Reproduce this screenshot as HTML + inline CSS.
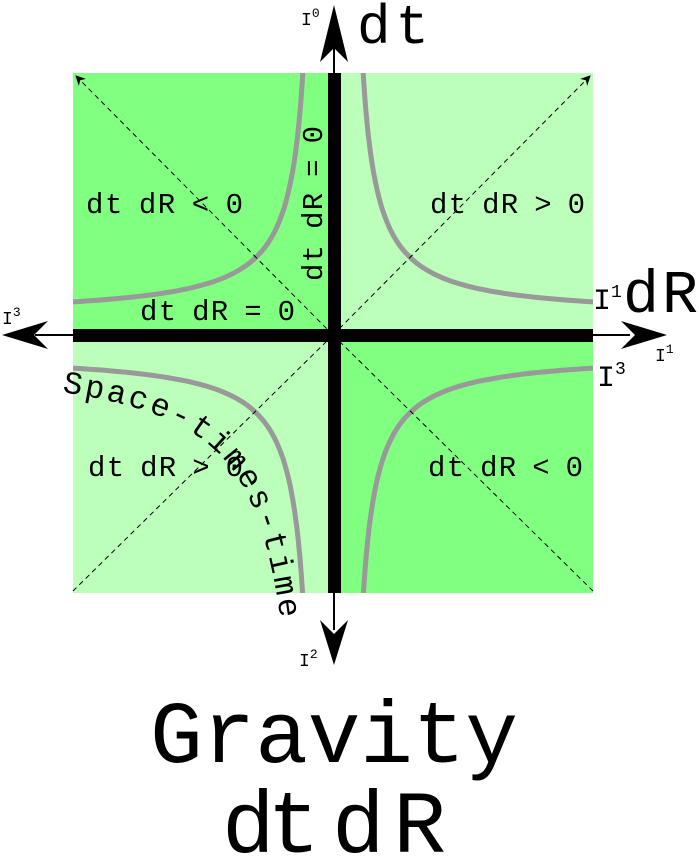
<!DOCTYPE html>
<html><head><meta charset="utf-8"><style>
html,body{margin:0;padding:0;background:#fff;}
svg{display:block;}
text{font-family:"Liberation Mono","DejaVu Sans Mono",monospace;fill:#000;}
</style></head><body>
<svg id="chart" width="699" height="859" viewBox="0 0 699 859" xmlns="http://www.w3.org/2000/svg">
<defs>
<marker id="sm" markerWidth="10" markerHeight="10" refX="9" refY="5" orient="auto" markerUnits="userSpaceOnUse"><path d="M0,0 L10,5 L0,10 L3,5 Z" fill="#000"/></marker>
</defs>
<rect x="73" y="73" width="260" height="262" fill="#80ff80"/>
<rect x="333" y="73" width="260" height="262" fill="#bbffbb"/>
<rect x="73" y="335" width="260" height="258" fill="#bbffbb"/>
<rect x="333" y="335" width="260" height="258" fill="#80ff80"/>
<g id="curves"></g>
<line x1="333" y1="335" x2="76" y2="76" stroke="#000" stroke-width="1" stroke-dasharray="5,4" marker-end="url(#sm)"/>
<line x1="333" y1="335" x2="590" y2="76" stroke="#000" stroke-width="1" stroke-dasharray="5,4" marker-end="url(#sm)"/>
<line x1="333" y1="335" x2="73" y2="591" stroke="#000" stroke-width="1" stroke-dasharray="5,4"/>
<line x1="333" y1="335" x2="593" y2="591" stroke="#000" stroke-width="1" stroke-dasharray="5,4"/>
<line x1="334" y1="40" x2="334" y2="630" stroke="#000" stroke-width="2"/>
<line x1="35" y1="335" x2="630" y2="335" stroke="#000" stroke-width="2"/>
<path d="M334,5 L348,62 L334,48 L320,62 Z" fill="#000"/>
<path d="M334,665 L348,620 L334,634 L320,620 Z" fill="#000"/>
<path d="M2,335 L48,321 L34,335 L48,349 Z" fill="#000"/>
<path d="M667,335 L621,321 L635,335 L621,349 Z" fill="#000"/>
<rect x="328" y="73" width="13" height="520" fill="#000"/>
<rect x="73" y="329" width="520" height="13" fill="#000"/>
<path id="textcurve" fill="none" stroke="none"/>
<text font-size="32"><textPath href="#textcurve" textLength="350" lengthAdjust="spacing">Space-times-time</textPath></text>
<text x="86" y="213" font-size="29" word-spacing="-4" textLength="157">dt dR &lt; 0</text>
<text x="430" y="213" font-size="29" word-spacing="-4" textLength="155">dt dR &gt; 0</text>
<text x="140" y="320" font-size="29" word-spacing="-4" textLength="155">dt dR = 0</text>
<text transform="translate(322,281) rotate(-90)" font-size="29" word-spacing="-4" textLength="155">dt dR = 0</text>
<text x="88" y="476" font-size="29" word-spacing="-4" textLength="155">dt dR &gt; 0</text>
<text x="428" y="476" font-size="29" word-spacing="-4" textLength="155">dt dR &lt; 0</text>
<text x="357" y="43" font-size="56" textLength="72">dt</text>
<text x="623" y="312" font-size="60" textLength="75">dR</text>
<text x="593" y="309" font-size="30">I<tspan font-size="18" dy="-12">1</tspan></text>
<text x="597" y="386" font-size="30">I<tspan font-size="18" dy="-12">3</tspan></text>
<text x="301" y="25" font-size="18">I<tspan font-size="13" dy="-8">0</tspan></text>
<text x="2" y="324" font-size="18">I<tspan font-size="13" dy="-8">3</tspan></text>
<text x="655" y="361" font-size="18">I<tspan font-size="13" dy="-8">1</tspan></text>
<text x="299" y="666" font-size="18">I<tspan font-size="13" dy="-8">2</tspan></text>
<text x="150" y="762" font-size="88" textLength="368">Gravity</text>
<text x="222" y="852" font-size="88" textLength="98">dt</text>
<text x="332" y="852" font-size="88" textLength="114">dR</text>
</svg>
<script>
// hyperbola data: quadrant sign pairs and constant k for (x-a)(b-y)=k in diagram units
const quadrants = ["top-right","top-left","bottom-left","bottom-right"];
const signX = [1,-1,-1,1];
const signY = [1,1,-1,-1];
const asymOffsetX = [15,15,15,15];
const asymOffsetY = [18,18,18,18];
const kValues = [3700,3700,3700,3700];
const textK = 10000;

const cx = 333, cy = 335, x0 = 73, x1 = 593, y0 = 73, y1 = 593;
const NS = "http://www.w3.org/2000/svg";
function curvePath(i, k) {
  const sx = signX[i], sy = signY[i];
  const ax = cx + sx * asymOffsetX[i];
  const by = cy - sy * asymOffsetY[i];
  const edgeX = sx > 0 ? x1 : x0;
  const edgeY = sy > 0 ? y0 : y1;
  const uMin = k / Math.abs(by - edgeY);
  const uMax = Math.abs(edgeX - ax);
  let d = "";
  const n = 80;
  for (let j = 0; j <= n; j++) {
    const u = uMin * Math.pow(uMax / uMin, j / n);
    const v = k / u;
    const x = ax + sx * u, y = by - sy * v;
    d += (j ? "L" : "M") + x.toFixed(1) + "," + y.toFixed(1);
  }
  return d;
}
const g = document.getElementById("curves");
for (let i = 0; i < quadrants.length; i++) {
  const p = document.createElementNS(NS, "path");
  p.setAttribute("d", curvePath(i, kValues[i]));
  p.setAttribute("fill", "none");
  p.setAttribute("stroke", "#999999");
  p.setAttribute("stroke-width", "5");
  
  
  g.appendChild(p);
}
(function(){
  const i = 2, sx = signX[i], sy = signY[i];
  const ax = cx + sx * asymOffsetX[i], by = cy - sy * asymOffsetY[i];
  let d = "";
  const n = 100, vStart = textK / (ax - 62), vEnd = 262;
  for (let j = 0; j <= n; j++) {
    const v = vStart * Math.pow(vEnd / vStart, j / n);
    const x = ax - (textK / v), y = by + v;
    d += (j ? "L" : "M") + x.toFixed(1) + "," + y.toFixed(1);
  }
  document.getElementById("textcurve").setAttribute("d", d);
})();
</script>
</body></html>
